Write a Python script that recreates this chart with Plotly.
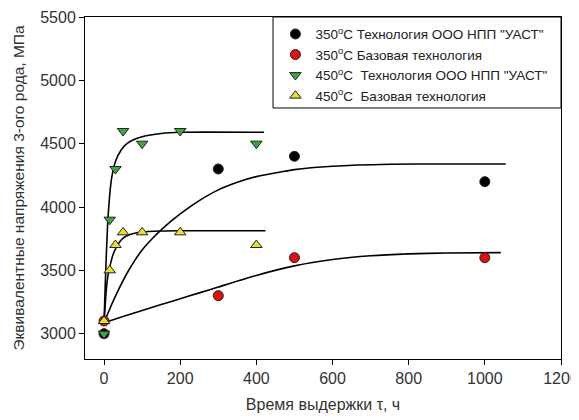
import plotly.graph_objects as go

# --- measured points ---
uast350_x = [0, 300, 500, 1000]
uast350_y = [3000, 4300, 4400, 4200]
base350_x = [0, 300, 500, 1000]
base350_y = [3100, 3300, 3600, 3600]
uast450_x = [0, 15, 30, 50, 100, 200, 400]
uast450_y = [3000, 3900, 4300, 4600, 4500, 4600, 4500]
base450_x = [0, 15, 30, 50, 100, 200, 400]
base450_y = [3100, 3500, 3700, 3800, 3800, 3800, 3700]

# --- fitted curves ---
fit_uast350_x = [0, 20, 40, 60, 80, 100, 125, 150, 200, 250, 300, 350, 400, 500, 600, 750, 900, 1055]
fit_uast350_y = [3087, 3230, 3360, 3475, 3575, 3660, 3745, 3820, 3945, 4050, 4135, 4195, 4240,
                 4295, 4322, 4338, 4340, 4340]
fit_base350_x = [0, 50, 100, 150, 200, 250, 300, 400, 500, 600, 700, 800, 900, 1042]
fit_base350_y = [3087, 3135, 3183, 3230, 3275, 3322, 3368, 3460, 3535, 3585, 3615, 3630, 3637, 3640]
fit_uast450_x = [0, 3, 6, 10, 15, 20, 30, 45, 60, 80, 100, 150, 200, 420]
fit_uast450_y = [3087, 3370, 3620, 3900, 4100, 4230, 4360, 4450, 4500, 4535, 4555, 4580, 4590, 4590]
fit_base450_x = [0, 4, 8, 12, 16, 22, 30, 40, 50, 70, 95, 150, 200, 424]
fit_base450_y = [3087, 3270, 3410, 3490, 3540, 3610, 3670, 3720, 3755, 3785, 3800, 3810, 3812, 3812]

legend_names = [
    '350<sup>o</sup>C Технология ООО НПП "УАСТ"',
    '350<sup>o</sup>C Базовая технология',
    '450<sup>o</sup>C  Технология ООО НПП "УАСТ"',
    '450<sup>o</sup>C  Базовая технология',
]

x_ticks = [0, 200, 400, 600, 800, 1000, 1200]
y_ticks = [3000, 3500, 4000, 4500, 5000, 5500]

FONT = "Liberation Sans, Arial, sans-serif"

fig = go.Figure()

for fx, fy in [(fit_uast350_x, fit_uast350_y), (fit_base350_x, fit_base350_y),
               (fit_uast450_x, fit_uast450_y), (fit_base450_x, fit_base450_y)]:
    fig.add_trace(go.Scatter(x=fx, y=fy, mode="lines", showlegend=False,
                             line=dict(color="black", width=1.6, shape="spline", smoothing=0.5),
                             hoverinfo="skip"))

series = [
    (uast350_x, uast350_y, "circle", "#000000", 10),
    (base350_x, base350_y, "circle", "#e01010", 10),
    (uast450_x, uast450_y, "triangle-down", "#3aa83a", 10),
    (base450_x, base450_y, "triangle-up", "#e6e02a", 10),
]
for (sx, sy, sym, col, sz), name in zip(series, legend_names):
    fig.add_trace(go.Scatter(x=sx, y=sy, mode="markers", name=name,
                             marker=dict(symbol=sym, color=col, size=sz,
                                         line=dict(color="#222222", width=1))))

fig.add_shape(type="rect", xref="paper", yref="paper",
              x0=0.395, x1=1.0, y0=0.734, y1=1.0,
              line=dict(color="black", width=1), fillcolor="white", layer="below")

# page body adds an 8px margin, so the figure is 571x412 with shifted margins
fig.update_layout(
    width=571, height=412,
    margin=dict(l=77, r=18, t=9, b=61),
    paper_bgcolor="white", plot_bgcolor="white",
    font=dict(family=FONT, color="#333333"),
    legend=dict(x=0.40, y=0.995, xanchor="left", yanchor="top",
                bgcolor="rgba(0,0,0,0)", borderwidth=0,
                font=dict(size=13.5, color="#222222"), tracegroupgap=0,
                itemwidth=30),
    xaxis=dict(range=[-50, 1200], tickvals=x_ticks, showgrid=False, zeroline=False,
               showline=True, linecolor="black", linewidth=1, mirror=True,
               ticks="outside", ticklen=5, tickcolor="black",
               tickfont=dict(size=16, color="#333333"),
               title=dict(text="Время выдержки τ, ч", font=dict(size=16, color="#333333"),
                          standoff=12),
               automargin=False),
    yaxis=dict(range=[2800, 5500], tickvals=y_ticks, showgrid=False, zeroline=False,
               showline=True, linecolor="black", linewidth=1, mirror=True,
               ticks="outside", ticklen=5, tickcolor="black",
               tickfont=dict(size=16, color="#333333"),
               title=dict(text="Эквивалентные напряжения 3-ого рода, МПа",
                          font=dict(size=15.5, color="#333333"), standoff=11),
               automargin=False),
)

fig.write_html("out.html")
